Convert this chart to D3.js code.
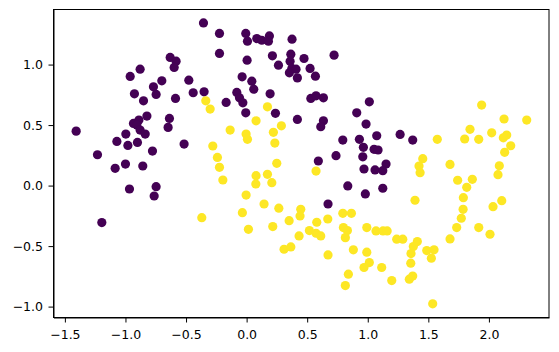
<!DOCTYPE html>
<html>
<head>
<meta charset="utf-8">
<script src="https://cdn.jsdelivr.net/npm/d3@7"></script>
<style>
  html, body { margin: 0; padding: 0; background: #fff; }
  svg { display: block; }
  .axis text { font-family: "DejaVu Sans", sans-serif; font-size: 12.5px; fill: #000; }
  .axis line, .axis path { stroke: #000; }
</style>
</head>
<body>
<div id="chart"></div>
<script>
// class 0 (purple) and class 1 (yellow) points
const purpleX = [-0.356, -0.631, -0.582, -0.598, -0.879, -0.961, -0.700, -0.769, -0.747, -0.926,
  -0.851, -0.587, -0.477, -0.441, -0.351,
  -0.224, -0.007, 0.007, 0.084, 0.125, 0.188, 0.180, 0.375, -0.224, 0.004,
  0.213, 0.263, 0.365, 0.359, 0.373, 0.408, 0.353, 0.419, 0.474, 0.524,
  0.568, 0.722, -0.037, 0.043, 0.059, -0.081, -0.059, -0.031, -0.169, 0.194,
  0.530, 0.573, 0.634, 1.013, -0.007, 0.238, 0.909,
  -1.407, -1.231, -1.085, -1.000, -1.071, -0.980, -0.997, -0.934, -0.889, -0.906,
  -0.879, -0.837, -0.901, -0.823, -0.637, -0.648, -0.777, -0.857, -0.516, -0.967,
  -0.747, -0.763, -1.195,
  0.419, 0.634, 0.612, 0.986, 1.074, 0.794, 0.931, 0.964, 1.052, 1.085,
  0.959, 0.738, 0.592, 0.969, 1.060, 1.151, 1.124, 0.835, 0.980, 1.124,
  0.672, 1.267, 1.371];
const purpleY = [1.344, 1.059, 1.028, 0.976, 0.962, 0.902, 0.866, 0.816, 0.753, 0.758,
  0.700, 0.720, 0.871, 0.767, 0.775,
  1.257, 1.257, 1.193, 1.215, 1.201, 1.237, 1.193, 1.210, 1.092, 1.036,
  1.072, 0.995, 1.086, 1.028, 0.968, 0.962, 0.932, 0.890, 1.050, 0.968,
  0.904, 1.078, 0.899, 0.863, 0.797, 0.770, 0.725, 0.684, 0.687, 0.758,
  0.720, 0.742, 0.725, 0.692, 0.601, 0.597, 0.601,
  0.450, 0.255, 0.143, 0.178, 0.365, 0.332, 0.426, 0.514, 0.541, 0.500,
  0.459, 0.426, 0.357, 0.574, 0.555, 0.481, 0.285, 0.162, 0.343, -0.028,
  -0.009, -0.086, -0.306,
  0.547, 0.535, 0.486, 0.508, 0.412, 0.376, 0.382, 0.316, 0.300, 0.294,
  0.238, 0.247, 0.203, 0.137, 0.129, 0.178, 0.123, -0.003, -0.069, -0.022,
  -0.152, 0.423, 0.376];

const yellowX = [-0.337, -0.301, 0.172, 1.940, -0.279, -0.370,
  -0.136, -0.004, 0.007, 0.078, 0.221, 0.287, 0.233, -0.241, -0.224, -0.196,
  0.249, 0.078, 0.172, 0.076, 0.208, -0.004, 0.144, 0.266, -0.035, 0.447,
  0.441, 0.351, 0.573, 0.579, 0.670, 0.794, 0.865,
  2.125, 2.312, 1.844, 1.800, 1.916, 2.023, 2.147, 2.119, 2.180, 2.130,
  1.574, 1.454, 1.423, 1.432, 1.679, 2.086, 2.075, 1.742, 1.863, 1.817,
  1.789, 1.787, 1.772, 1.390, 2.034, 2.106,
  0.015, 0.216, 0.433, 0.518, 0.573, 0.612, 0.309, 0.365, 0.672, 0.799,
  0.832, 0.815, 0.881, 0.992, 1.068, 1.126, 1.160, 0.992, 1.013, 0.969,
  1.115, 0.840, 0.815,
  1.734, 1.916, 2.009, 1.679, 1.239, 1.289, 1.409, 1.376, 1.357, 1.487,
  1.547, 1.525, 1.355, 1.198, 1.343, 1.371, 1.536];
const yellowY = [0.700, 0.632, 0.651, 0.665, 0.327, -0.265,
  0.459, 0.426, 0.382, 0.535, 0.440, 0.494, 0.351, 0.233, 0.151, 0.046,
  0.184, 0.082, 0.093, 0.013, 0.024, -0.078, -0.152, -0.187, -0.224, -0.196,
  -0.251, -0.290, 0.120, -0.303, -0.276, -0.229, -0.229,
  0.550, 0.541, 0.465, 0.385, 0.382, 0.436, 0.417, 0.395, 0.329, 0.275,
  0.382, 0.222, 0.162, 0.107, 0.175, 0.164, 0.090, 0.044, 0.052, -0.014,
  -0.100, -0.196, -0.270, -0.121, -0.174, -0.125,
  -0.361, -0.339, -0.416, -0.372, -0.394, -0.416, -0.526, -0.507, -0.573, -0.347,
  -0.372, -0.430, -0.531, -0.347, -0.375, -0.375, -0.375, -0.550, -0.636, -0.677,
  -0.677, -0.732, -0.826,
  -0.347, -0.347, -0.402, -0.441, -0.443, -0.443, -0.463, -0.504, -0.562, -0.537,
  -0.531, -0.600, -0.641, -0.785, -0.773, -0.748, -0.977];

const xTicks = [-1.5, -1.0, -0.5, 0.0, 0.5, 1.0, 1.5, 2.0];
const yTicks = [-1.0, -0.5, 0.0, 0.5, 1.0];

const PURPLE = "#440154";
const YELLOW = "#fde725";

const WIDTH  = 559;
const HEIGHT = 352;
const MARGIN = { top: 9.5, right: 10, bottom: 34.5, left: 53.5 };
const R = 4.6;

const fmt = d => (d < 0 ? "\u2212" : "") + Math.abs(d).toFixed(1);

const points = [
  ...purpleX.map((x, i) => ({ x, y: purpleY[i], c: PURPLE })),
  ...yellowX.map((x, i) => ({ x, y: yellowY[i], c: YELLOW })),
];

const x = d3.scaleLinear()
  .domain([-1.594, 2.496])
  .range([MARGIN.left, WIDTH - MARGIN.right]);

const y = d3.scaleLinear()
  .domain([-1.090, 1.455])
  .range([HEIGHT - MARGIN.bottom, MARGIN.top]);

const svg = d3.select("#chart")
  .append("svg")
  .attr("width", WIDTH)
  .attr("height", HEIGHT);

// points
svg.append("g")
  .selectAll("circle")
  .data(points)
  .enter().append("circle")
  .attr("cx", d => x(d.x))
  .attr("cy", d => y(d.y))
  .attr("r", R)
  .attr("fill", d => d.c);

// axes
svg.append("g")
  .attr("class", "axis")
  .attr("transform", `translate(0, ${HEIGHT - MARGIN.bottom})`)
  .call(d3.axisBottom(x).tickValues(xTicks).tickFormat(fmt).tickSize(5).tickSizeOuter(0).tickPadding(7.5));

svg.append("g")
  .attr("class", "axis")
  .attr("transform", `translate(${MARGIN.left}, 0)`)
  .call(d3.axisLeft(y).tickValues(yTicks).tickFormat(fmt).tickSize(5).tickSizeOuter(0).tickPadding(5.5));

// frame
svg.append("rect")
  .attr("x", MARGIN.left)
  .attr("y", MARGIN.top)
  .attr("width", WIDTH - MARGIN.left - MARGIN.right)
  .attr("height", HEIGHT - MARGIN.top - MARGIN.bottom)
  .attr("fill", "none")
  .attr("stroke", "#000")
  .attr("stroke-width", 1);
</script>
</body>
</html>
